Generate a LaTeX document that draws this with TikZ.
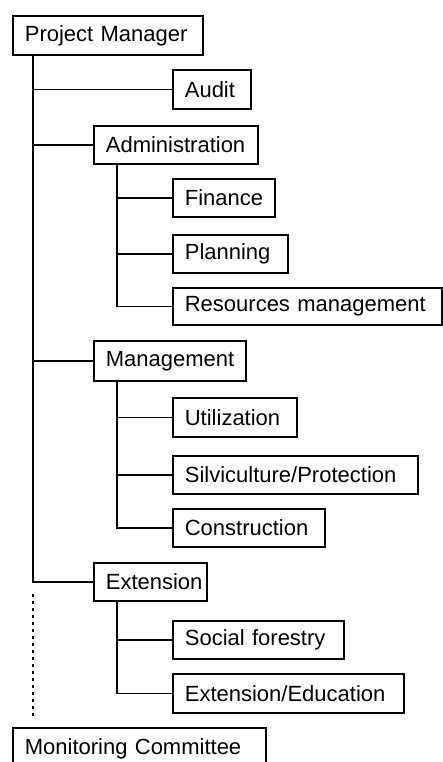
\documentclass[tikz,border=0pt]{standalone}
\usepackage{fontspec}
\setmainfont{Liberation Sans}
\begin{document}
\begin{tikzpicture}[x=1pt,y=1pt,
    box/.style={draw,line width=1.7pt,anchor=north west,inner xsep=12pt,inner ysep=0pt,
        align=left,font=\fontsize{22}{26}\selectfont},
    link/.style={line width=1.5pt},
    dots/.style={line width=1.8pt,dash pattern=on 3pt off 4pt}]
\useasboundingbox (0,0) rectangle (442,-762);
% x of the two trunk lines
\coordinate (t) at (33,0);
\coordinate (s) at (117,0);
\node[box,text width=166pt,minimum height=39pt] (pm) at (12,-15) {Project Manager};
\node[box,text width=54pt,minimum height=39pt] (audit) at (172,-69) {Audit};
\node[box,text width=140pt,minimum height=38pt] (admin) at (93,-125) {Administration};
\node[box,text width=78pt,minimum height=38pt] (fin) at (172,-178) {Finance};
\node[box,text width=91pt,minimum height=38pt] (plan) at (172,-234) {Planning};
\node[box,text width=245pt,minimum height=37pt] (res) at (172,-287) {Resources management};
\node[box,text width=128pt,minimum height=40pt] (mgmt) at (93,-340) {Management};
\node[box,text width=100pt,minimum height=39pt] (util) at (172,-397) {Utilization};
\node[box,text width=221pt,minimum height=38pt] (silv) at (172,-455) {Silviculture/Protection};
\node[box,text width=128pt,minimum height=38pt] (cons) at (172,-508) {Construction};
\node[box,text width=89pt,minimum height=38pt] (ext) at (93,-562) {Extension};
\node[box,text width=147pt,minimum height=38pt] (soc) at (172,-620) {Social forestry};
\node[box,text width=207pt,minimum height=39pt] (edu) at (172,-673) {Extension/Education};
\node[box,text width=229pt,minimum height=42pt] (mc) at (12,-727) {Monitoring Committee};
% main trunk
\foreach \n in {audit,admin,mgmt,ext}
    \draw[link](pm.south -| t) |- (\n.west);
% sub trunks
\foreach \n in {fin,plan,res}
    \draw[link](admin.south -| s) |- (\n.west);
\foreach \n in {util,silv,cons}
    \draw[link](mgmt.south -| s) |- (\n.west);
\foreach \n in {soc,edu}
    \draw[link](ext.south -| s) |- (\n.west);
\draw[dots,shorten <=12pt,shorten >=9pt](t |- ext.west) -- (t |- mc.north);
\end{tikzpicture}
\end{document}
